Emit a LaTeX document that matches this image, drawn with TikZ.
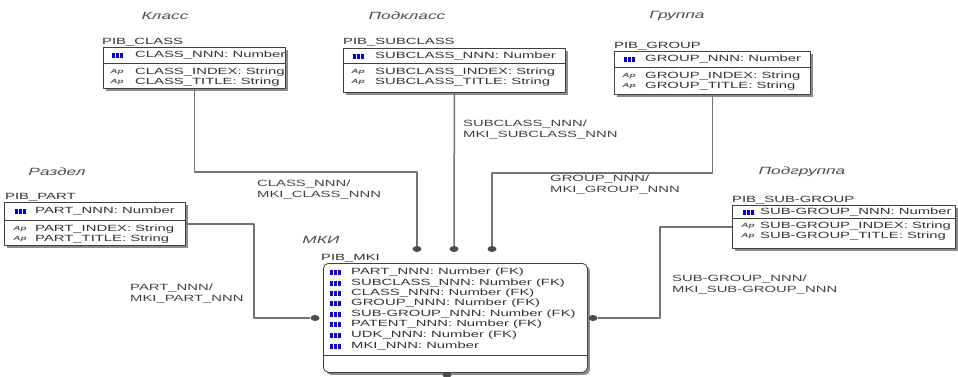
\documentclass[tikz,border=0pt]{standalone}
\usepackage{fontspec}
\setmainfont{Liberation Sans}
\newfontfamily\erfont[FakeStretch=1.65]{Liberation Sans}
\usetikzlibrary{shadows,shapes.geometric}

\begin{document}
\begin{tikzpicture}[x=1pt,y=-1pt, line join=round,
  tbl/.style={draw=black!75, fill=white, line width=0.8pt, inner sep=0, anchor=north west,
    drop shadow={shadow xshift=2.5pt, shadow yshift=-2.5pt, fill=black!45, opacity=1}},
  txt/.style={anchor=west, inner sep=0, text=black!80, font=\erfont\fontsize{9}{10}\selectfont},
  lbl/.style={anchor=south west, inner sep=0, text=black!80, font=\erfont\fontsize{9}{10}\selectfont},
  ttl/.style={inner sep=0, text=black!70, font=\erfont\itshape\fontsize{10.5}{11}\selectfont},
  rlbl/.style={anchor=north west, inner sep=0, align=left, text=black!75, font=\erfont\fontsize{9}{11}\selectfont},
  key/.style={fill=blue!85!black, minimum width=11pt, minimum height=5pt, inner sep=0,
    path picture={\draw[white, line width=0.6pt]
      ([xshift=-2pt]path picture bounding box.north) -- ([xshift=-2pt]path picture bounding box.south)
      ([xshift=2pt]path picture bounding box.north) -- ([xshift=2pt]path picture bounding box.south);}},
  ap/.style={inner sep=0, text=black!65, font=\erfont\itshape\bfseries\fontsize{6}{6}\selectfont},
  sep/.style={draw=black!75, line width=0.8pt},
  rel/.style={draw=black!55, line width=1.5pt},
  dot/.style={ellipse, fill=black!70, minimum width=9pt, minimum height=6pt, inner sep=0}]
\useasboundingbox (0,0) rectangle (958,376);

% Класс
\node[ttl] (clst) at (165,16) {Класс};
\node[lbl] (clsn) at (102,46) {PIB\_CLASS};
\node[tbl, minimum width=182pt, minimum height=41pt] (cls) at (103,47) {};
\draw[sep] (103,63) -- (285,63);
\node[key] at (117,55) {};
\node[txt] at (135,55) {CLASS\_NNN: Number};
\node[ap] at (117,72) {Ap};
\node[txt] at (135,72) {CLASS\_INDEX: String};
\node[ap] at (117,82) {Ap};
\node[txt] at (135,82) {CLASS\_TITLE: String};

% Подкласс
\node[ttl] (subt) at (407,16) {Подкласс};
\node[lbl] (subn) at (343,46) {PIB\_SUBCLASS};
\node[tbl, minimum width=222pt, minimum height=44pt] (sub) at (343,48) {};
\draw[sep] (343,63) -- (565,63);
\node[key] at (358,56) {};
\node[txt] at (375,56) {SUBCLASS\_NNN: Number};
\node[ap] at (358,72) {Ap};
\node[txt] at (375,72) {SUBCLASS\_INDEX: String};
\node[ap] at (358,82) {Ap};
\node[txt] at (375,82) {SUBCLASS\_TITLE: String};

% Группа
\node[ttl] (grpt) at (677,16) {Группа};
\node[lbl] (grpn) at (614,50) {PIB\_GROUP};
\node[tbl, minimum width=196pt, minimum height=43pt] (grp) at (614,51) {};
\draw[sep] (614,67) -- (810,67);
\node[key] at (629,59) {};
\node[txt] at (645,59) {GROUP\_NNN: Number};
\node[ap] at (629,76) {Ap};
\node[txt] at (645,76) {GROUP\_INDEX: String};
\node[ap] at (629,86) {Ap};
\node[txt] at (645,86) {GROUP\_TITLE: String};

% Раздел
\node[ttl] (prtt) at (57,172) {Раздел};
\node[lbl] (prtn) at (5,201) {PIB\_PART};
\node[tbl, minimum width=181pt, minimum height=43pt] (prt) at (4,202) {};
\draw[sep] (4,220) -- (185,220);
\node[key] at (20,211) {};
\node[txt] at (35,211) {PART\_NNN: Number};
\node[ap] at (20,229) {Ap};
\node[txt] at (35,229) {PART\_INDEX: String};
\node[ap] at (20,239) {Ap};
\node[txt] at (35,239) {PART\_TITLE: String};

% Подгруппа
\node[ttl] (sgrt) at (802,172) {Подгруппа};
\node[lbl] (sgrn) at (732,204) {PIB\_SUB-GROUP};
\node[tbl, minimum width=223pt, minimum height=43pt] (sgr) at (732,205) {};
\draw[sep] (732,218) -- (955,218);
\node[key] at (748,212) {};
\node[txt] at (760,212) {SUB-GROUP\_NNN: Number};
\node[ap] at (748,226) {Ap};
\node[txt] at (760,226) {SUB-GROUP\_INDEX: String};
\node[ap] at (748,236) {Ap};
\node[txt] at (760,236) {SUB-GROUP\_TITLE: String};

% МКИ
\node[ttl] (mkit) at (321,240) {МКИ};
\node[lbl] (mkin) at (321,262) {PIB\_MKI};
\node[tbl, rounded corners=5pt, minimum width=264pt, minimum height=109pt] (mki) at (323,263) {};
\draw[sep] (323,355) -- (587,355);
\foreach \y/\t in {272/PART\_NNN: Number (FK), 283/SUBCLASS\_NNN: Number (FK),
    293/CLASS\_NNN: Number (FK), 303/GROUP\_NNN: Number (FK),
    314/SUB-GROUP\_NNN: Number (FK), 324/PATENT\_NNN: Number (FK),
    335/UDK\_NNN: Number (FK), 346/MKI\_NNN: Number} {
  \node[key] at (335,\y) {};
  \node[txt] at (351,\y) {\t};
}

% связи
\node[dot] (d1) at (417,249) {};
\node[dot] (d2) at (454,249) {};
\node[dot] (d3) at (492,249) {};
\node[dot] (d4) at (315,318) {};
\node[dot] (d5) at (593,318) {};
\node[dot] (d6) at (447,375) {};
\coordinate (b1) at (417,172);
\coordinate (b3) at (492,173);
\coordinate (b4) at (254,318);
\coordinate (b5) at (660,318);
\draw[rel] (cls.south) |- (b1) -- (d1);
\draw[rel] (sub.south) -- (d2);
\draw[rel] (grp.south) |- (b3) -- (d3);
\draw[rel] (prt.east) -| (b4) -- (d4);
\draw[rel] (sgr.west) -| (b5) -- (d5);

\node[rlbl] at (257,180) {CLASS\_NNN/\\MKI\_CLASS\_NNN};
\node[rlbl] at (463,120) {SUBCLASS\_NNN/\\MKI\_SUBCLASS\_NNN};
\node[rlbl] at (550,175) {GROUP\_NNN/\\MKI\_GROUP\_NNN};
\node[rlbl] at (130,284) {PART\_NNN/\\MKI\_PART\_NNN};
\node[rlbl] at (672,275) {SUB-GROUP\_NNN/\\MKI\_SUB-GROUP\_NNN};
\end{tikzpicture}
\end{document}
